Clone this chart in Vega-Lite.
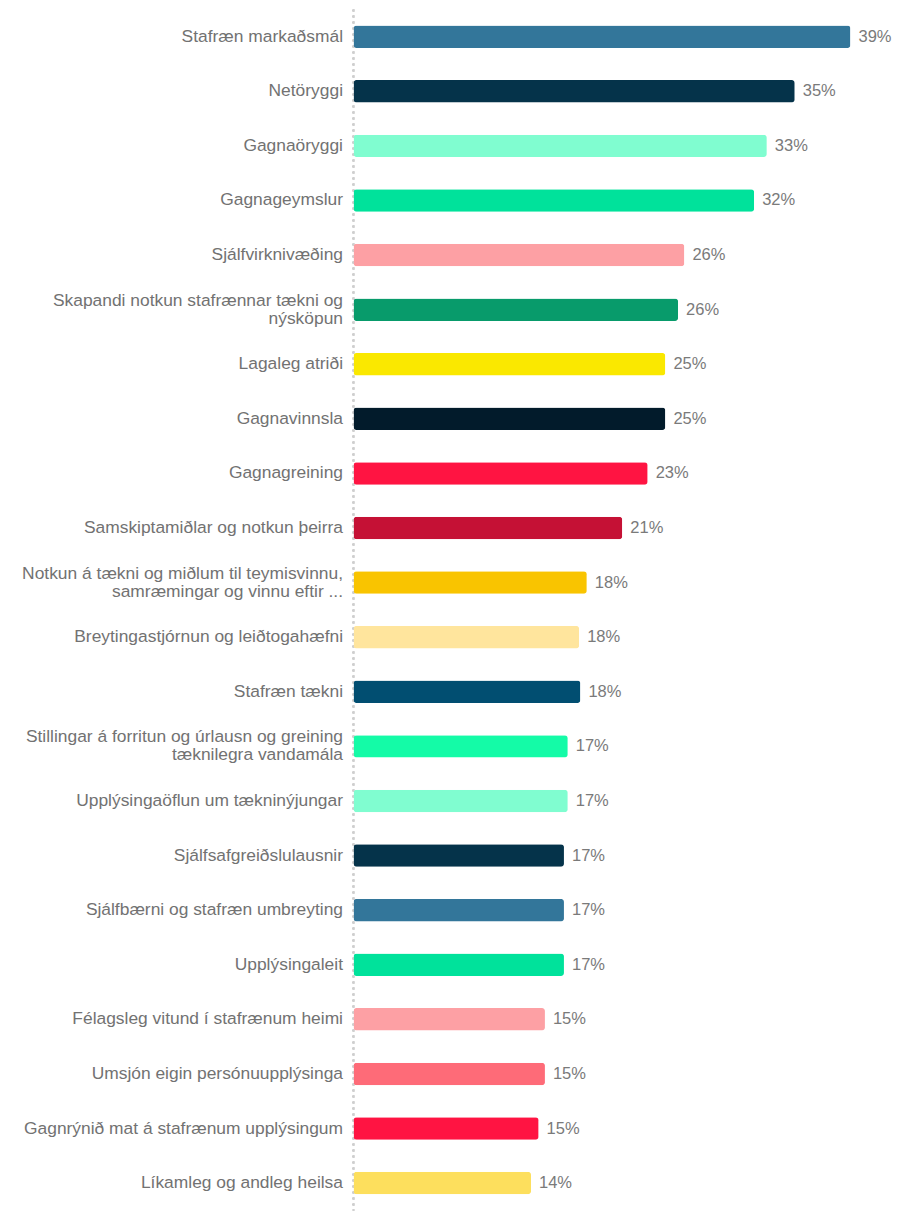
{
  "$schema": "https://vega.github.io/schema/vega-lite/v6.json",
  "autosize": "none",
  "padding": {"left": 353.5, "top": 9.4, "right": 15.5, "bottom": 7.6},
  "width": 533,
  "height": 1201,
  "background": "white",
  "config": {"view": {"stroke": null}},
  "data": {
    "values": [
      {"name": "Stafræn markaðsmál", "value": 0.392},
      {"name": "Netöryggi", "value": 0.348},
      {"name": "Gagnaöryggi", "value": 0.326},
      {"name": "Gagnageymslur", "value": 0.316},
      {"name": "Sjálfvirknivæðing", "value": 0.261},
      {"name": "Skapandi notkun stafrænnar tækni og\nnýsköpun", "value": 0.256},
      {"name": "Lagaleg atriði", "value": 0.246},
      {"name": "Gagnavinnsla", "value": 0.246},
      {"name": "Gagnagreining", "value": 0.232},
      {"name": "Samskiptamiðlar og notkun þeirra", "value": 0.212},
      {"name": "Notkun á tækni og miðlum til teymisvinnu,\nsamræmingar og vinnu eftir ...", "value": 0.184},
      {"name": "Breytingastjórnun og leiðtogahæfni", "value": 0.178},
      {"name": "Stafræn tækni", "value": 0.179},
      {"name": "Stillingar á forritun og úrlausn og greining\ntæknilegra vandamála", "value": 0.169},
      {"name": "Upplýsingaöflun um tækninýjungar", "value": 0.169},
      {"name": "Sjálfsafgreiðslulausnir", "value": 0.166},
      {"name": "Sjálfbærni og stafræn umbreyting", "value": 0.166},
      {"name": "Upplýsingaleit", "value": 0.166},
      {"name": "Félagsleg vitund í stafrænum heimi", "value": 0.151},
      {"name": "Umsjón eigin persónuupplýsinga", "value": 0.151},
      {"name": "Gagnrýnið mat á stafrænum upplýsingum", "value": 0.146},
      {"name": "Líkamleg og andleg heilsa", "value": 0.140}
    ]
  },
  "encoding": {
    "y": {
      "field": "name",
      "type": "nominal",
      "sort": null,
      "scale": {"paddingInner": 0.588, "paddingOuter": 0.294},
      "axis": {
        "title": null,
        "ticks": false,
        "domain": false,
        "labelPadding": 11,
        "labelFont": "Liberation Sans",
        "labelFontSize": 17.4,
        "labelColor": "#727272",
        "labelLimit": 400,
        "labelLineHeight": 18,
        "labelOffset": {"condition": {"test": "indexof(datum.value, '\\n') >= 0", "value": -9}, "value": 0},
        "labelExpr": "split(datum.value, '\\n')"
      }
    },
    "x": {
      "field": "value",
      "type": "quantitative",
      "scale": {"domain": [0, 0.4204], "nice": false},
      "axis": null
    }
  },
  "layer": [
    {
      "mark": {"type": "rule", "color": "#cfcfcf", "strokeDash": [2, 4], "strokeWidth": 1.2},
      "encoding": {"x": {"datum": 0}, "y": null}
    },
    {
      "mark": {"type": "bar", "cornerRadius": 3},
      "encoding": {
        "color": {
          "field": "name",
          "type": "nominal",
          "legend": null,
          "scale": {
            "domain": [
              "Stafræn markaðsmál", "Netöryggi", "Gagnaöryggi", "Gagnageymslur", "Sjálfvirknivæðing",
              "Skapandi notkun stafrænnar tækni og\nnýsköpun", "Lagaleg atriði", "Gagnavinnsla", "Gagnagreining",
              "Samskiptamiðlar og notkun þeirra", "Notkun á tækni og miðlum til teymisvinnu,\nsamræmingar og vinnu eftir ...",
              "Breytingastjórnun og leiðtogahæfni", "Stafræn tækni", "Stillingar á forritun og úrlausn og greining\ntæknilegra vandamála",
              "Upplýsingaöflun um tækninýjungar", "Sjálfsafgreiðslulausnir", "Sjálfbærni og stafræn umbreyting", "Upplýsingaleit",
              "Félagsleg vitund í stafrænum heimi", "Umsjón eigin persónuupplýsinga", "Gagnrýnið mat á stafrænum upplýsingum",
              "Líkamleg og andleg heilsa"
            ],
            "range": [
              "#33769a", "#05334a", "#80fdd0", "#00e29b", "#fda0a4",
              "#089b6b", "#fae800", "#021b2b", "#ff1442",
              "#c51135", "#f9c400",
              "#ffe59d", "#014e71", "#14fba7",
              "#80fdd0", "#05334a", "#33769a", "#00e29b",
              "#fda0a4", "#fe6b78", "#ff1442",
              "#fddf5d"
            ]
          }
        }
      }
    },
    {
      "mark": {"type": "text", "align": "left", "baseline": "middle", "dx": 8, "font": "Liberation Sans", "fontSize": 16.5, "color": "#7a7a7a"},
      "encoding": {"text": {"field": "value", "type": "quantitative", "format": ".0%"}}
    }
  ]
}
